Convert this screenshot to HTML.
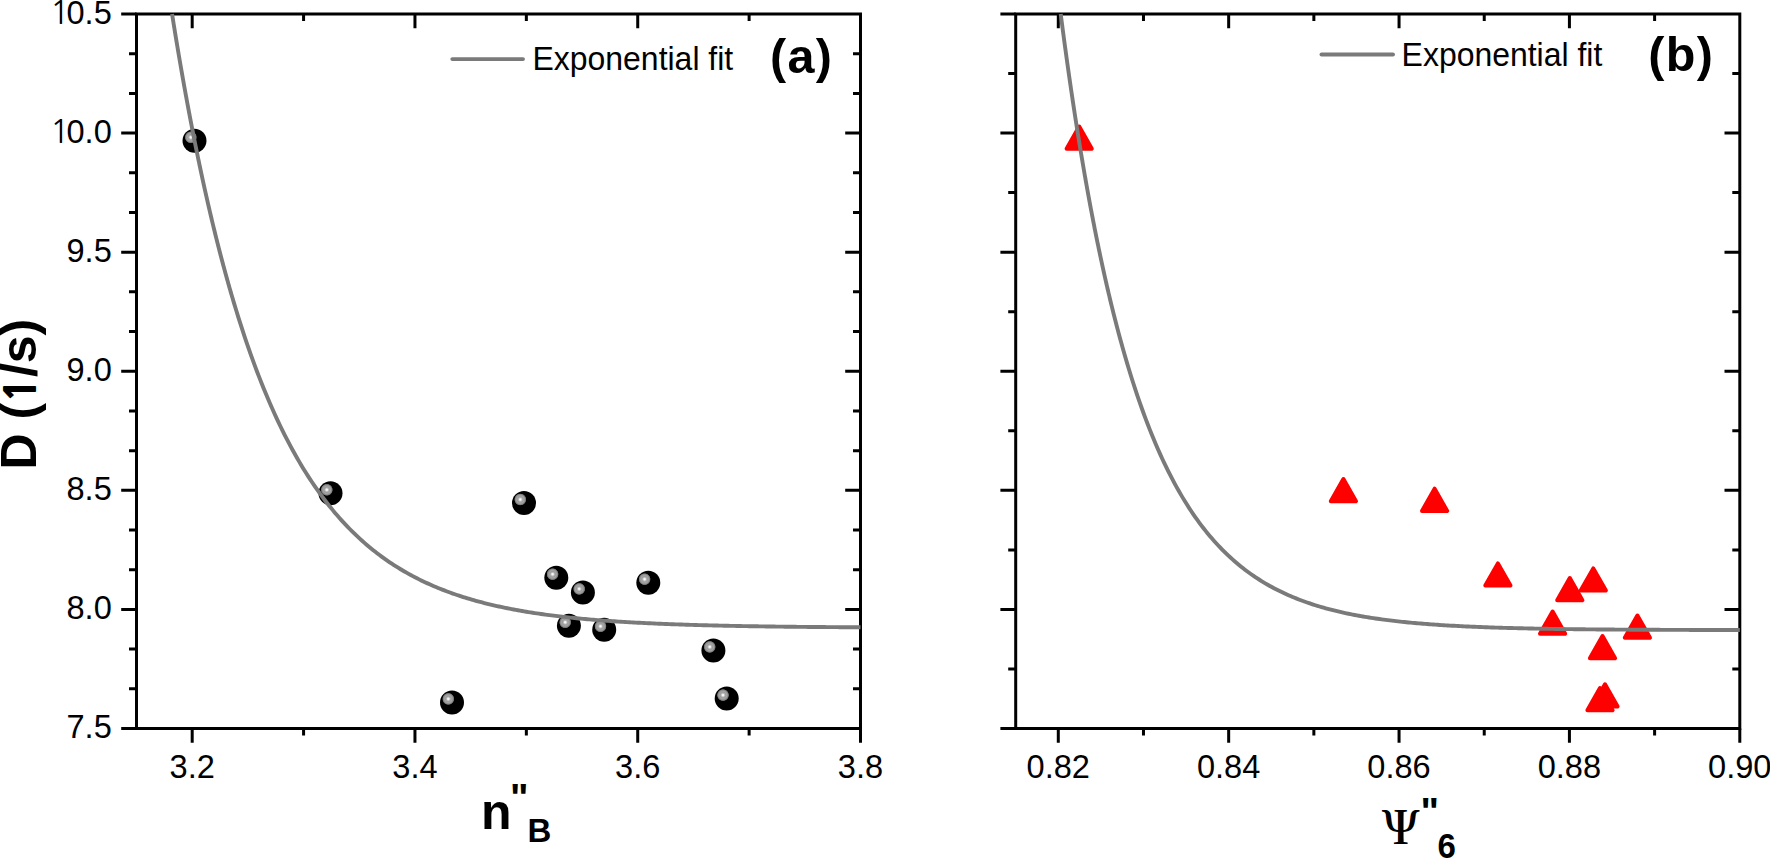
<!DOCTYPE html>
<html><head><meta charset="utf-8"><style>html,body{margin:0;padding:0;background:#fff;overflow:hidden}svg{display:block}</style></head>
<body>
<svg width="1770" height="858" viewBox="0 0 1770 858">
<defs><radialGradient id="ball" cx="0.346" cy="0.354" r="0.255" fx="0.346" fy="0.354"><stop offset="0" stop-color="#fff"/><stop offset="0.14" stop-color="#f0f0f0"/><stop offset="0.3" stop-color="#b8b8b8"/><stop offset="0.45" stop-color="#9c9c9c"/><stop offset="0.62" stop-color="#a4a4a4"/><stop offset="0.8" stop-color="#8a8a8a"/><stop offset="0.9" stop-color="#6a6a6a"/><stop offset="1" stop-color="#000"/></radialGradient></defs>
<style>.tl{font-family:"Liberation Sans",Arial,sans-serif;font-size:32px;fill:#000}.tk{font-family:"Liberation Sans",Arial,sans-serif;font-size:32.6px;fill:#000}.bd{font-family:"Liberation Sans",Arial,sans-serif;font-weight:bold;fill:#000}</style>
<rect width="1770" height="858" fill="#fff"/>
<path d="M192.19 728.50V742.70M192.19 14.00V28.20M414.96 728.50V742.70M414.96 14.00V28.20M637.73 728.50V742.70M637.73 14.00V28.20M860.50 728.50V742.70M303.58 728.50V735.50M303.58 14.00V21.00M526.35 728.50V735.50M526.35 14.00V21.00M749.12 728.50V735.50M749.12 14.00V21.00M136.50 728.50H121.20M136.50 609.42H121.20M860.50 609.42H845.20M136.50 490.33H121.20M860.50 490.33H845.20M136.50 371.25H121.20M860.50 371.25H845.20M136.50 252.17H121.20M860.50 252.17H845.20M136.50 133.08H121.20M860.50 133.08H845.20M136.50 14.00H121.20M136.50 688.81H129.00M860.50 688.81H853.00M136.50 649.11H129.00M860.50 649.11H853.00M136.50 569.72H129.00M860.50 569.72H853.00M136.50 530.03H129.00M860.50 530.03H853.00M136.50 450.64H129.00M860.50 450.64H853.00M136.50 410.94H129.00M860.50 410.94H853.00M136.50 331.56H129.00M860.50 331.56H853.00M136.50 291.86H129.00M860.50 291.86H853.00M136.50 212.47H129.00M860.50 212.47H853.00M136.50 172.78H129.00M860.50 172.78H853.00M136.50 93.39H129.00M860.50 93.39H853.00M136.50 53.69H129.00M860.50 53.69H853.00" stroke="#000" stroke-width="3.0" fill="none"/>
<rect x="136.50" y="14.00" width="724.00" height="714.50" stroke="#000" stroke-width="3.0" fill="none"/>
<text x="192.19" y="778" text-anchor="middle" class="tk">3.2</text>
<text x="414.96" y="778" text-anchor="middle" class="tk">3.4</text>
<text x="637.73" y="778" text-anchor="middle" class="tk">3.6</text>
<text x="860.50" y="778" text-anchor="middle" class="tk">3.8</text>
<text x="111.8" y="738.10" text-anchor="end" class="tk">7.5</text>
<text x="111.8" y="619.02" text-anchor="end" class="tk">8.0</text>
<text x="111.8" y="499.93" text-anchor="end" class="tk">8.5</text>
<text x="111.8" y="380.85" text-anchor="end" class="tk">9.0</text>
<text x="111.8" y="261.77" text-anchor="end" class="tk">9.5</text>
<text y="142.68" class="tk"><tspan x="50.0" style="font-family:NanumGothic,sans-serif">1</tspan><tspan x="111.8" text-anchor="end">0.0</tspan></text>
<text y="23.60" class="tk"><tspan x="50.0" style="font-family:NanumGothic,sans-serif">1</tspan><tspan x="111.8" text-anchor="end">0.5</tspan></text>
<path d="M1058.29 728.50V742.70M1058.29 14.00V28.20M1228.67 728.50V742.70M1228.67 14.00V28.20M1399.05 728.50V742.70M1399.05 14.00V28.20M1569.42 728.50V742.70M1569.42 14.00V28.20M1739.80 728.50V742.70M1143.48 728.50V735.50M1143.48 14.00V21.00M1313.86 728.50V735.50M1313.86 14.00V21.00M1484.24 728.50V735.50M1484.24 14.00V21.00M1654.61 728.50V735.50M1654.61 14.00V21.00M1015.70 728.50H1000.40M1015.70 609.42H1000.40M1739.80 609.42H1724.50M1015.70 490.33H1000.40M1739.80 490.33H1724.50M1015.70 371.25H1000.40M1739.80 371.25H1724.50M1015.70 252.17H1000.40M1739.80 252.17H1724.50M1015.70 133.08H1000.40M1739.80 133.08H1724.50M1015.70 14.00H1000.40M1015.70 668.96H1008.20M1739.80 668.96H1732.30M1015.70 549.88H1008.20M1739.80 549.88H1732.30M1015.70 430.79H1008.20M1739.80 430.79H1732.30M1015.70 311.71H1008.20M1739.80 311.71H1732.30M1015.70 192.62H1008.20M1739.80 192.62H1732.30M1015.70 73.54H1008.20M1739.80 73.54H1732.30" stroke="#000" stroke-width="3.0" fill="none"/>
<rect x="1015.70" y="14.00" width="724.10" height="714.50" stroke="#000" stroke-width="3.0" fill="none"/>
<text x="1058.29" y="778" text-anchor="middle" class="tk">0.82</text>
<text x="1228.67" y="778" text-anchor="middle" class="tk">0.84</text>
<text x="1399.05" y="778" text-anchor="middle" class="tk">0.86</text>
<text x="1569.42" y="778" text-anchor="middle" class="tk">0.88</text>
<text x="1739.80" y="778" text-anchor="middle" class="tk">0.90</text>
<circle cx="194.5" cy="140.8" r="12" fill="url(#ball)"/>
<circle cx="330.5" cy="493.3" r="12" fill="url(#ball)"/>
<circle cx="524" cy="503" r="12" fill="url(#ball)"/>
<circle cx="452" cy="702.4" r="12" fill="url(#ball)"/>
<circle cx="556.3" cy="577.7" r="12" fill="url(#ball)"/>
<circle cx="582.9" cy="592.4" r="12" fill="url(#ball)"/>
<circle cx="648.3" cy="582.7" r="12" fill="url(#ball)"/>
<circle cx="568.9" cy="625.8" r="12" fill="url(#ball)"/>
<circle cx="604.2" cy="629.8" r="12" fill="url(#ball)"/>
<circle cx="713.4" cy="650.4" r="12" fill="url(#ball)"/>
<circle cx="726.7" cy="698.6" r="12" fill="url(#ball)"/>
<polygon points="1079.20,126.50 1091.80,148.70 1066.60,148.70" fill="#f00" stroke="#f00" stroke-width="4" stroke-linejoin="round"/>
<polygon points="1343.40,479.00 1356.00,501.20 1330.80,501.20" fill="#f00" stroke="#f00" stroke-width="4" stroke-linejoin="round"/>
<polygon points="1434.60,488.70 1447.20,510.90 1422.00,510.90" fill="#f00" stroke="#f00" stroke-width="4" stroke-linejoin="round"/>
<polygon points="1497.90,563.40 1510.50,585.60 1485.30,585.60" fill="#f00" stroke="#f00" stroke-width="4" stroke-linejoin="round"/>
<polygon points="1593.30,568.40 1605.90,590.60 1580.70,590.60" fill="#f00" stroke="#f00" stroke-width="4" stroke-linejoin="round"/>
<polygon points="1569.80,578.10 1582.40,600.30 1557.20,600.30" fill="#f00" stroke="#f00" stroke-width="4" stroke-linejoin="round"/>
<polygon points="1552.60,611.50 1565.20,633.70 1540.00,633.70" fill="#f00" stroke="#f00" stroke-width="4" stroke-linejoin="round"/>
<polygon points="1637.40,615.50 1650.00,637.70 1624.80,637.70" fill="#f00" stroke="#f00" stroke-width="4" stroke-linejoin="round"/>
<polygon points="1602.50,636.10 1615.10,658.30 1589.90,658.30" fill="#f00" stroke="#f00" stroke-width="4" stroke-linejoin="round"/>
<polygon points="1605.00,684.30 1617.60,706.50 1592.40,706.50" fill="#f00" stroke="#f00" stroke-width="4" stroke-linejoin="round"/>
<polygon points="1600.00,688.10 1612.60,710.30 1587.40,710.30" fill="#f00" stroke="#f00" stroke-width="4" stroke-linejoin="round"/>
<polyline points="172.06,14.00 172.36,15.90 172.67,17.79 172.97,19.68 173.27,21.56 173.57,23.44 173.87,25.31 174.17,27.17 174.48,29.03 174.78,30.88 175.08,32.73 175.38,34.57 175.68,36.41 175.98,38.24 176.28,40.06 176.59,41.88 176.89,43.69 177.19,45.50 177.49,47.30 177.79,49.10 178.09,50.89 178.39,52.68 178.70,54.46 179.00,56.23 179.30,58.00 179.60,59.76 179.90,61.52 180.20,63.27 180.51,65.02 180.81,66.76 181.11,68.50 181.41,70.23 181.71,71.95 182.01,73.67 182.31,75.39 182.62,77.10 182.92,78.80 183.22,80.50 183.52,82.19 183.82,83.88 184.12,85.56 184.42,87.24 184.73,88.91 185.03,90.58 185.33,92.24 185.63,93.90 185.93,95.55 186.23,97.20 186.54,98.84 186.84,100.48 187.14,102.11 187.44,103.74 187.74,105.36 188.04,106.98 188.34,108.59 188.65,110.19 188.95,111.80 189.25,113.39 189.55,114.98 189.85,116.57 190.15,118.15 190.45,119.73 190.76,121.30 191.06,122.87 191.36,124.43 191.66,125.99 191.96,127.54 192.26,129.09 192.57,130.63 192.87,132.17 193.17,133.71 193.47,135.23 193.77,136.76 194.07,138.28 194.37,139.79 194.68,141.30 194.98,142.81 195.28,144.31 195.58,145.81 195.88,147.30 196.18,148.78 196.49,150.27 196.79,151.74 197.09,153.22 197.39,154.69 197.69,156.15 197.99,157.61 198.29,159.06 198.60,160.51 198.90,161.96 199.20,163.40 199.50,164.84 199.80,166.27 200.10,167.70 200.40,169.12 200.71,170.54 201.01,171.96 201.31,173.37 201.61,174.77 201.91,176.18 202.21,177.57 202.52,178.97 202.82,180.36 203.12,181.74 203.42,183.12 203.72,184.50 204.02,185.87 204.32,187.24 204.63,188.60 204.93,189.96 205.23,191.31 205.53,192.66 205.83,194.01 206.13,195.35 206.43,196.69 206.74,198.02 207.04,199.35 207.34,200.68 207.64,202.00 207.94,203.32 208.24,204.63 208.55,205.94 208.85,207.25 209.15,208.55 209.45,209.85 209.75,211.14 210.05,212.43 210.35,213.71 210.66,215.00 210.96,216.27 211.26,217.55 211.56,218.82 211.86,220.08 212.16,221.34 212.46,222.60 212.77,223.85 213.07,225.10 213.37,226.35 213.67,227.59 213.97,228.83 214.27,230.07 214.58,231.30 214.88,232.52 215.18,233.75 215.48,234.97 215.78,236.18 216.08,237.39 216.38,238.60 216.69,239.81 216.99,241.01 217.29,242.20 217.59,243.40 217.89,244.59 218.19,245.77 218.50,246.95 218.80,248.13 219.10,249.31 219.40,250.48 219.70,251.65 220.00,252.81 220.30,253.97 220.61,255.13 220.91,256.28 221.21,257.43 221.51,258.58 221.81,259.72 222.11,260.86 222.41,261.99 222.72,263.13 223.02,264.25 223.32,265.38 223.62,266.50 223.92,267.62 224.22,268.73 224.53,269.84 224.83,270.95 225.13,272.06 225.43,273.16 225.73,274.25 226.03,275.35 226.33,276.44 226.64,277.53 226.94,278.61 227.24,279.69 227.54,280.77 227.84,281.84 228.14,282.91 228.44,283.98 228.75,285.04 229.05,286.10 229.35,287.16 229.65,288.22 229.95,289.27 230.25,290.31 230.56,291.36 230.86,292.40 231.16,293.44 231.46,294.47 231.76,295.50 232.06,296.53 234.16,303.61 236.27,310.54 238.37,317.32 240.47,323.96 242.57,330.45 244.67,336.81 246.78,343.03 248.88,349.11 250.98,355.07 253.08,360.90 255.18,366.60 257.28,372.19 259.39,377.65 261.49,383.00 263.59,388.23 265.69,393.35 267.79,398.36 269.90,403.26 272.00,408.06 274.10,412.76 276.20,417.36 278.30,421.85 280.40,426.26 282.51,430.56 284.61,434.78 286.71,438.90 288.81,442.94 290.91,446.89 293.02,450.76 295.12,454.54 297.22,458.25 299.32,461.87 301.42,465.42 303.52,468.89 305.63,472.29 307.73,475.61 309.83,478.86 311.93,482.05 314.03,485.16 316.13,488.21 318.24,491.19 320.34,494.11 322.44,496.97 324.54,499.77 326.64,502.50 328.75,505.18 330.85,507.80 332.95,510.37 335.05,512.88 337.15,515.34 339.25,517.74 341.36,520.09 343.46,522.39 345.56,524.65 347.66,526.85 349.76,529.01 351.87,531.12 353.97,533.19 356.07,535.21 358.17,537.19 360.27,539.13 362.37,541.02 364.48,542.88 366.58,544.69 368.68,546.47 370.78,548.21 372.88,549.91 374.99,551.57 377.09,553.20 379.19,554.80 381.29,556.36 383.39,557.89 385.49,559.38 387.60,560.84 389.70,562.28 391.80,563.68 393.90,565.05 396.00,566.39 398.10,567.70 400.21,568.99 402.31,570.24 404.41,571.47 406.51,572.68 408.61,573.86 410.72,575.01 412.82,576.14 414.92,577.24 417.02,578.32 419.12,579.38 421.22,580.42 423.33,581.43 425.43,582.42 427.53,583.39 429.63,584.34 431.73,585.27 433.84,586.18 435.94,587.07 438.04,587.94 440.14,588.79 442.24,589.63 444.34,590.44 446.45,591.24 448.55,592.02 450.65,592.79 452.75,593.54 454.85,594.27 456.96,594.99 459.06,595.69 461.16,596.38 463.26,597.05 465.36,597.71 467.46,598.35 469.57,598.98 471.67,599.60 473.77,600.20 475.87,600.79 477.97,601.37 480.07,601.93 482.18,602.49 484.28,603.03 486.38,603.56 488.48,604.07 490.58,604.58 492.69,605.08 494.79,605.57 496.89,606.04 498.99,606.51 501.09,606.96 503.19,607.41 505.30,607.84 507.40,608.27 509.50,608.69 511.60,609.10 513.70,609.50 515.81,609.89 517.91,610.27 520.01,610.65 522.11,611.01 524.21,611.37 526.31,611.72 528.42,612.07 530.52,612.41 532.62,612.74 534.72,613.06 536.82,613.37 538.93,613.68 541.03,613.98 543.13,614.28 545.23,614.57 547.33,614.85 549.43,615.13 551.54,615.40 553.64,615.67 555.74,615.93 557.84,616.18 559.94,616.43 562.04,616.67 564.15,616.91 566.25,617.14 568.35,617.37 570.45,617.59 572.55,617.81 574.66,618.03 576.76,618.24 578.86,618.44 580.96,618.64 583.06,618.84 585.16,619.03 587.27,619.22 589.37,619.40 591.47,619.58 593.57,619.76 595.67,619.93 597.78,620.10 599.88,620.26 601.98,620.43 604.08,620.58 606.18,620.74 608.28,620.89 610.39,621.04 612.49,621.18 614.59,621.32 616.69,621.46 618.79,621.60 620.90,621.73 623.00,621.86 625.10,621.99 627.20,622.11 629.30,622.24 631.40,622.36 633.51,622.47 635.61,622.59 637.71,622.70 639.81,622.81 641.91,622.91 644.01,623.02 646.12,623.12 648.22,623.22 650.32,623.32 652.42,623.42 654.52,623.51 656.63,623.60 658.73,623.69 660.83,623.78 662.93,623.87 665.03,623.95 667.13,624.03 669.24,624.12 671.34,624.19 673.44,624.27 675.54,624.35 677.64,624.42 679.75,624.50 681.85,624.57 683.95,624.64 686.05,624.70 688.15,624.77 690.25,624.84 692.36,624.90 694.46,624.96 696.56,625.02 698.66,625.08 700.76,625.14 702.87,625.20 704.97,625.25 707.07,625.31 709.17,625.36 711.27,625.42 713.37,625.47 715.48,625.52 717.58,625.57 719.68,625.61 721.78,625.66 723.88,625.71 725.99,625.75 728.09,625.80 730.19,625.84 732.29,625.88 734.39,625.92 736.49,625.96 738.60,626.00 740.70,626.04 742.80,626.08 744.90,626.12 747.00,626.15 749.10,626.19 751.21,626.22 753.31,626.26 755.41,626.29 757.51,626.32 759.61,626.36 761.72,626.39 763.82,626.42 765.92,626.45 768.02,626.48 770.12,626.51 772.22,626.53 774.33,626.56 776.43,626.59 778.53,626.62 780.63,626.64 782.73,626.67 784.84,626.69 786.94,626.72 789.04,626.74 791.14,626.76 793.24,626.78 795.34,626.81 797.45,626.83 799.55,626.85 801.65,626.87 803.75,626.89 805.85,626.91 807.96,626.93 810.06,626.95 812.16,626.97 814.26,626.99 816.36,627.00 818.46,627.02 820.57,627.04 822.67,627.05 824.77,627.07 826.87,627.09 828.97,627.10 831.07,627.12 833.18,627.13 835.28,627.15 837.38,627.16 839.48,627.18 841.58,627.19 843.69,627.20 845.79,627.22 847.89,627.23 849.99,627.24 852.09,627.25 854.19,627.27 856.30,627.28 858.40,627.29 860.50,627.30" fill="none" stroke="#7a7a7a" stroke-width="3.9"/>
<polyline points="1060.71,14.00 1061.01,16.34 1061.32,18.66 1061.62,20.98 1061.92,23.29 1062.22,25.59 1062.52,27.88 1062.82,30.17 1063.13,32.44 1063.43,34.71 1063.73,36.97 1064.03,39.22 1064.33,41.46 1064.63,43.69 1064.93,45.91 1065.24,48.13 1065.54,50.33 1065.84,52.53 1066.14,54.72 1066.44,56.90 1066.74,59.08 1067.05,61.24 1067.35,63.40 1067.65,65.55 1067.95,67.69 1068.25,69.82 1068.55,71.95 1068.85,74.06 1069.16,76.17 1069.46,78.27 1069.76,80.36 1070.06,82.45 1070.36,84.53 1070.66,86.59 1070.96,88.66 1071.27,90.71 1071.57,92.75 1071.87,94.79 1072.17,96.82 1072.47,98.84 1072.77,100.86 1073.08,102.86 1073.38,104.86 1073.68,106.86 1073.98,108.84 1074.28,110.82 1074.58,112.79 1074.88,114.75 1075.19,116.70 1075.49,118.65 1075.79,120.59 1076.09,122.52 1076.39,124.44 1076.69,126.36 1076.99,128.27 1077.30,130.17 1077.60,132.07 1077.90,133.96 1078.20,135.84 1078.50,137.71 1078.80,139.58 1079.11,141.44 1079.41,143.29 1079.71,145.14 1080.01,146.98 1080.31,148.81 1080.61,150.64 1080.91,152.45 1081.22,154.27 1081.52,156.07 1081.82,157.87 1082.12,159.66 1082.42,161.44 1082.72,163.22 1083.03,164.99 1083.33,166.75 1083.63,168.51 1083.93,170.26 1084.23,172.00 1084.53,173.74 1084.83,175.47 1085.14,177.20 1085.44,178.91 1085.74,180.62 1086.04,182.33 1086.34,184.03 1086.64,185.72 1086.94,187.40 1087.25,189.08 1087.55,190.75 1087.85,192.42 1088.15,194.08 1088.45,195.73 1088.75,197.38 1089.06,199.02 1089.36,200.66 1089.66,202.28 1089.96,203.91 1090.26,205.52 1090.56,207.13 1090.86,208.74 1091.17,210.33 1091.47,211.93 1091.77,213.51 1092.07,215.09 1092.37,216.67 1092.67,218.23 1092.97,219.79 1093.28,221.35 1093.58,222.90 1093.88,224.44 1094.18,225.98 1094.48,227.52 1094.78,229.04 1095.09,230.56 1095.39,232.08 1095.69,233.59 1095.99,235.09 1096.29,236.59 1096.59,238.08 1096.89,239.57 1097.20,241.05 1097.50,242.52 1097.80,243.99 1098.10,245.46 1098.40,246.92 1098.70,248.37 1099.00,249.82 1099.31,251.26 1099.61,252.70 1099.91,254.13 1100.21,255.55 1100.51,256.97 1100.81,258.39 1101.12,259.80 1101.42,261.20 1101.72,262.60 1102.02,263.99 1102.32,265.38 1102.62,266.77 1102.92,268.14 1103.23,269.52 1103.53,270.88 1103.83,272.24 1104.13,273.60 1104.43,274.95 1104.73,276.30 1105.04,277.64 1105.34,278.98 1105.64,280.31 1105.94,281.64 1106.24,282.96 1106.54,284.27 1106.84,285.59 1107.15,286.89 1107.45,288.19 1107.75,289.49 1108.05,290.78 1108.35,292.07 1108.65,293.35 1108.95,294.63 1109.26,295.90 1109.56,297.17 1109.86,298.43 1110.16,299.69 1110.46,300.94 1110.76,302.19 1111.07,303.43 1111.37,304.67 1111.67,305.90 1111.97,307.13 1112.27,308.36 1112.57,309.58 1112.87,310.79 1113.18,312.01 1113.48,313.21 1113.78,314.41 1114.08,315.61 1114.38,316.80 1114.68,317.99 1114.98,319.17 1115.29,320.35 1115.59,321.53 1115.89,322.70 1116.19,323.86 1116.49,325.03 1116.79,326.18 1117.10,327.33 1117.40,328.48 1117.70,329.63 1118.00,330.77 1118.30,331.90 1118.60,333.03 1118.90,334.16 1119.21,335.28 1119.51,336.40 1119.81,337.51 1120.11,338.62 1120.41,339.73 1120.71,340.83 1122.78,348.28 1124.85,355.54 1126.93,362.61 1129.00,369.50 1131.07,376.21 1133.14,382.75 1135.21,389.12 1137.28,395.32 1139.35,401.37 1141.42,407.26 1143.49,413.00 1145.56,418.59 1147.63,424.04 1149.70,429.35 1151.77,434.52 1153.84,439.56 1155.91,444.46 1157.98,449.25 1160.05,453.90 1162.12,458.44 1164.19,462.86 1166.26,467.17 1168.34,471.37 1170.41,475.46 1172.48,479.44 1174.55,483.32 1176.62,487.10 1178.69,490.78 1180.76,494.37 1182.83,497.87 1184.90,501.28 1186.97,504.59 1189.04,507.83 1191.11,510.98 1193.18,514.05 1195.25,517.03 1197.32,519.95 1199.39,522.79 1201.46,525.55 1203.53,528.24 1205.60,530.87 1207.68,533.42 1209.75,535.91 1211.82,538.34 1213.89,540.71 1215.96,543.01 1218.03,545.25 1220.10,547.44 1222.17,549.57 1224.24,551.64 1226.31,553.66 1228.38,555.63 1230.45,557.55 1232.52,559.42 1234.59,561.24 1236.66,563.02 1238.73,564.75 1240.80,566.43 1242.87,568.07 1244.94,569.67 1247.02,571.23 1249.09,572.74 1251.16,574.22 1253.23,575.66 1255.30,577.07 1257.37,578.43 1259.44,579.76 1261.51,581.06 1263.58,582.33 1265.65,583.56 1267.72,584.76 1269.79,585.93 1271.86,587.06 1273.93,588.17 1276.00,589.25 1278.07,590.31 1280.14,591.33 1282.21,592.33 1284.28,593.31 1286.36,594.26 1288.43,595.18 1290.50,596.08 1292.57,596.96 1294.64,597.81 1296.71,598.65 1298.78,599.46 1300.85,600.25 1302.92,601.02 1304.99,601.77 1307.06,602.50 1309.13,603.21 1311.20,603.90 1313.27,604.58 1315.34,605.24 1317.41,605.88 1319.48,606.50 1321.55,607.11 1323.62,607.71 1325.70,608.28 1327.77,608.85 1329.84,609.40 1331.91,609.93 1333.98,610.45 1336.05,610.96 1338.12,611.45 1340.19,611.93 1342.26,612.40 1344.33,612.86 1346.40,613.30 1348.47,613.74 1350.54,614.16 1352.61,614.57 1354.68,614.97 1356.75,615.36 1358.82,615.75 1360.89,616.12 1362.96,616.48 1365.04,616.83 1367.11,617.17 1369.18,617.51 1371.25,617.83 1373.32,618.15 1375.39,618.46 1377.46,618.76 1379.53,619.05 1381.60,619.34 1383.67,619.62 1385.74,619.89 1387.81,620.15 1389.88,620.41 1391.95,620.66 1394.02,620.91 1396.09,621.14 1398.16,621.38 1400.23,621.60 1402.30,621.82 1404.38,622.04 1406.45,622.24 1408.52,622.45 1410.59,622.65 1412.66,622.84 1414.73,623.03 1416.80,623.21 1418.87,623.39 1420.94,623.56 1423.01,623.73 1425.08,623.90 1427.15,624.06 1429.22,624.22 1431.29,624.37 1433.36,624.52 1435.43,624.66 1437.50,624.80 1439.57,624.94 1441.64,625.08 1443.72,625.21 1445.79,625.33 1447.86,625.46 1449.93,625.58 1452.00,625.70 1454.07,625.81 1456.14,625.92 1458.21,626.03 1460.28,626.14 1462.35,626.24 1464.42,626.34 1466.49,626.44 1468.56,626.54 1470.63,626.63 1472.70,626.72 1474.77,626.81 1476.84,626.89 1478.91,626.98 1480.98,627.06 1483.06,627.14 1485.13,627.22 1487.20,627.29 1489.27,627.37 1491.34,627.44 1493.41,627.51 1495.48,627.58 1497.55,627.64 1499.62,627.71 1501.69,627.77 1503.76,627.83 1505.83,627.89 1507.90,627.95 1509.97,628.00 1512.04,628.06 1514.11,628.11 1516.18,628.17 1518.25,628.22 1520.32,628.27 1522.40,628.32 1524.47,628.36 1526.54,628.41 1528.61,628.45 1530.68,628.50 1532.75,628.54 1534.82,628.58 1536.89,628.62 1538.96,628.66 1541.03,628.70 1543.10,628.74 1545.17,628.77 1547.24,628.81 1549.31,628.84 1551.38,628.88 1553.45,628.91 1555.52,628.94 1557.59,628.97 1559.66,629.00 1561.73,629.03 1563.81,629.06 1565.88,629.09 1567.95,629.12 1570.02,629.14 1572.09,629.17 1574.16,629.19 1576.23,629.22 1578.30,629.24 1580.37,629.27 1582.44,629.29 1584.51,629.31 1586.58,629.33 1588.65,629.35 1590.72,629.37 1592.79,629.39 1594.86,629.41 1596.93,629.43 1599.00,629.45 1601.07,629.47 1603.15,629.49 1605.22,629.50 1607.29,629.52 1609.36,629.54 1611.43,629.55 1613.50,629.57 1615.57,629.58 1617.64,629.60 1619.71,629.61 1621.78,629.63 1623.85,629.64 1625.92,629.65 1627.99,629.67 1630.06,629.68 1632.13,629.69 1634.20,629.70 1636.27,629.71 1638.34,629.72 1640.41,629.74 1642.49,629.75 1644.56,629.76 1646.63,629.77 1648.70,629.78 1650.77,629.79 1652.84,629.80 1654.91,629.80 1656.98,629.81 1659.05,629.82 1661.12,629.83 1663.19,629.84 1665.26,629.85 1667.33,629.85 1669.40,629.86 1671.47,629.87 1673.54,629.88 1675.61,629.88 1677.68,629.89 1679.75,629.90 1681.83,629.90 1683.90,629.91 1685.97,629.92 1688.04,629.92 1690.11,629.93 1692.18,629.93 1694.25,629.94 1696.32,629.94 1698.39,629.95 1700.46,629.96 1702.53,629.96 1704.60,629.97 1706.67,629.97 1708.74,629.97 1710.81,629.98 1712.88,629.98 1714.95,629.99 1717.02,629.99 1719.09,630.00 1721.17,630.00 1723.24,630.00 1725.31,630.01 1727.38,630.01 1729.45,630.01 1731.52,630.02 1733.59,630.02 1735.66,630.03 1737.73,630.03 1739.80,630.03" fill="none" stroke="#7a7a7a" stroke-width="3.9"/>
<line x1="452.3" y1="59.1" x2="523" y2="59.1" stroke="#7a7a7a" stroke-width="3.9" stroke-linecap="round"/>
<text transform="translate(532.5,70) scale(0.96,1)" class="tl" style="font-size:33.3px">Exponential fit</text>
<text x="770" y="72.5" class="bd" font-size="48.5" letter-spacing="1.3">(a)</text>
<line x1="1321.5" y1="54.5" x2="1393" y2="54.5" stroke="#7a7a7a" stroke-width="3.9" stroke-linecap="round"/>
<text transform="translate(1401.6,66.2) scale(0.96,1)" class="tl" style="font-size:33.3px">Exponential fit</text>
<text x="1648.3" y="71.1" class="bd" font-size="48.5" letter-spacing="1.3">(b)</text>
<text transform="translate(36,469.5) rotate(-90)" class="bd" font-size="50">D (<tspan font-family="NanumGothic,sans-serif" font-weight="800" font-size="42.5">1</tspan>/s)</text>
<text class="bd"><tspan x="481" y="829.4" font-size="50">n</tspan><tspan x="510" y="810.5" font-size="39">"</tspan><tspan x="527.5" y="842" font-size="33">B</tspan></text>
<text transform="translate(1382.3,843.9) scale(0.915,1)" font-family="'Noto Serif CJK SC','Liberation Serif',serif" font-weight="bold" font-size="45.5">&#936;</text>
<text x="1420.5" y="824.8" class="bd" font-size="39">"</text>
<text transform="translate(1437.6,857.9) scale(0.93,1)" class="bd" font-size="35.5">6</text>
</svg>
</body></html>
